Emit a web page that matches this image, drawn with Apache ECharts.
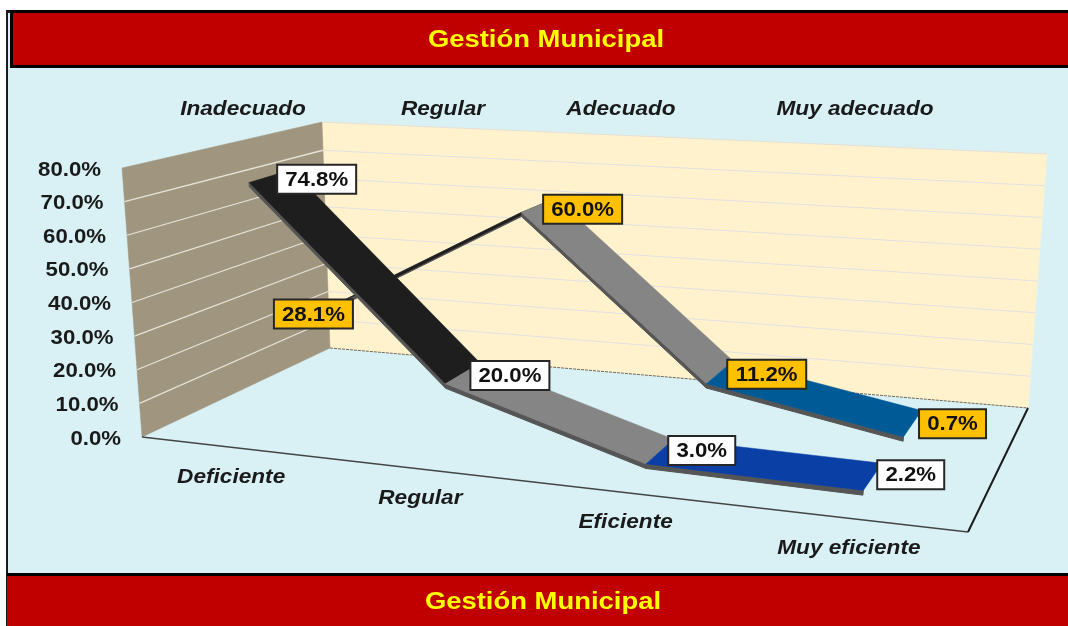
<!DOCTYPE html>
<html>
<head>
<meta charset="utf-8">
<style>html,body{margin:0;padding:0;background:#fff}#c{width:1068px;height:626px}</style>
<script src="https://cdn.jsdelivr.net/npm/echarts@6/dist/echarts.min.js"></script>
</head>
<body>
<div id="c"></div>
<script>
// ---------- data ----------
const titleText = 'Gestión Municipal';
const categories = ['Deficiente', 'Regular', 'Eficiente', 'Muy eficiente'];
const backCategories = ['Inadecuado', 'Regular', 'Adecuado', 'Muy adecuado'];
const frontValues = [74.8, 20.0, 3.0, 2.2];
const backValues = [28.1, 60.0, 11.2, 0.7];
const tickValues = [0, 10, 20, 30, 40, 50, 60, 70, 80];

// ---------- layout and style ----------
const FONT = '"Liberation Sans", Arial, sans-serif';
const GRID_SIZE = 400;
const FLOOR = { fl: [142, 437], fr: [968, 532], br: [1028, 408], bl: [330, 348] };
const RISE = { fl: [-20, -269], fr: [35, -300], br: [19, -254], bl: [-8, -226] };
const U_WARP = 0.04;
const FRONT_DEPTH = [0.14, 0.349];
const BACK_DEPTH = [0.617, 0.866];
const SIDE_DROP = 1.3;
const FRONT_COLORS = ['#1e1e1e', '#858585', '#0a3fa5'];
const BACK_COLORS = ['#1e1e1e', '#858585', '#005a96'];
const SIDE_COLOR = '#555555';
const FRONT_LABEL_OFFSET = [[46.5, 3], [47, 2], [42, -1], [38, -2]];
const BACK_LABEL_OFFSET = [[-52, 23], [44, 4], [47, 2], [40, 0]];
const BACK_CAT_X = [243, 443, 621, 855];
const TEXT_STRETCH = 1.11;
const CAT_STRETCH = 1.16;

// ---------- projective floor plus interpolated rise ----------
const H = (function () {
  const { fl, fr, br, bl } = FLOOR;
  const dx1 = fr[0] - br[0], dx2 = bl[0] - br[0], sx = fl[0] - fr[0] + br[0] - bl[0];
  const dy1 = fr[1] - br[1], dy2 = bl[1] - br[1], sy = fl[1] - fr[1] + br[1] - bl[1];
  const den = dx1 * dy2 - dx2 * dy1;
  const g = (sx * dy2 - dx2 * sy) / den, h = (dx1 * sy - sx * dy1) / den;
  return {
    a: fr[0] - fl[0] + g * fr[0], b: bl[0] - fl[0] + h * bl[0], c: fl[0],
    d: fr[1] - fl[1] + g * fr[1], e: bl[1] - fl[1] + h * bl[1], f: fl[1], g, h
  };
})();
function project(u0, v, t) {
  const u = u0 + U_WARP * u0 * (1 - u0);
  const w = H.g * u + H.h * v + 1;
  const x = (H.a * u + H.b * v + H.c) / w, y = (H.d * u + H.e * v + H.f) / w;
  const bi = i => (1 - v) * ((1 - u) * RISE.fl[i] + u * RISE.fr[i]) + v * ((1 - u) * RISE.bl[i] + u * RISE.br[i]);
  return [x + t * bi(0), y + t * bi(1)];
}
// read the library's scales on the hidden grid and turn them into unit coordinates
function unit(api, cat, val) {
  const p = api.coord([cat, val]);
  return [p[0] / GRID_SIZE, (GRID_SIZE - p[1]) / GRID_SIZE];
}
function poly(points, fill, extra) {
  return { type: 'polygon', shape: { points }, style: Object.assign({ fill, stroke: fill, lineWidth: 0.5 }, extra || {}) };
}
function line(p, q, stroke, lineWidth, dash) {
  return { type: 'line', shape: { x1: p[0], y1: p[1], x2: q[0], y2: q[1] }, style: { stroke, lineWidth, lineDash: dash || null, fill: null } };
}
function text(str, x, y, size, opts) {
  const o = opts || {};
  return {
    type: 'text', x, y, scaleX: o.stretch || TEXT_STRETCH,
    style: {
      text: str, fill: o.fill || '#1a1a1a',
      font: (o.italic ? 'italic ' : '') + 'bold ' + size + 'px ' + FONT,
      align: o.align || 'center', verticalAlign: 'middle'
    }
  };
}

function renderWalls(params, api) {
  return {
    type: 'group', children: [
      poly([project(0, 1, 0), project(1, 1, 0), project(1, 1, 1), project(0, 1, 1)], '#fff2cc'),
      poly([project(0, 0, 0), project(0, 1, 0), project(0, 1, 1), project(0, 0, 1)], '#a09680'),
      line(project(0, 1, 1), project(1, 1, 1), '#e3e0d8', 1),
      line(project(0, 1, 0), project(1, 1, 0), '#6a6a62', 1, [3, 1]),
      line(project(0, 0, 0), project(1, 0, 0), '#454545', 1.6),
      line(project(1, 0, 0), project(1, 1, 0), '#1c1c1c', 2)
    ]
  };
}
function renderTick(params, api) {
  const val = api.value(0);
  const t = unit(api, 0, val)[1];
  const children = [];
  if (val > 0 && val < 80) {
    children.push(line(project(0, 1, t), project(1, 1, t), '#e0e1e3', 1.2));
    children.push(line(project(0, 0, t), project(0, 1, t), '#e6e2d6', 1.3));
  }
  const p = project(0, 0, t);
  children.push(text(val.toFixed(1) + '%', p[0] - 21, p[1] + 2, 20, { align: 'right' }));
  return { type: 'group', children };
}
function ribbonRenderer(values, depth, colors) {
  return function (params, api) {
    const i = params.dataIndex;
    if (i >= values.length - 1) return { type: 'group', children: [] };
    const a = unit(api, i, values[i]), b = unit(api, i + 1, values[i + 1]);
    const drop = unit(api, 0, SIDE_DROP)[1];
    const f1 = project(a[0], depth[0], a[1]), f2 = project(b[0], depth[0], b[1]);
    const k1 = project(a[0], depth[1], a[1]), k2 = project(b[0], depth[1], b[1]);
    const s1 = project(a[0], depth[0], a[1] - drop), s2 = project(b[0], depth[0], b[1] - drop);
    return {
      type: 'group', children: [
        poly([f1, f2, s2, s1], SIDE_COLOR, { lineWidth: 1 }),
        poly([f1, f2, k2, k1], colors[i])
      ]
    };
  };
}
function labelRenderer(values, depth, offsets, fill) {
  return function (params, api) {
    const i = params.dataIndex;
    const a = unit(api, i, values[i]);
    const f = project(a[0], depth[0], a[1]), k = project(a[0], depth[1], a[1]);
    const cx = (f[0] + k[0]) / 2 + offsets[i][0], cy = (f[1] + k[1]) / 2 + offsets[i][1];
    const str = values[i].toFixed(1) + '%';
    const w = str.length === 5 ? 79 : 67, h = 29;
    return {
      type: 'group', children: [
        { type: 'rect', shape: { x: cx - w / 2, y: cy - h / 2, width: w, height: h }, style: { fill, stroke: '#262626', lineWidth: 2 } },
        text(str, cx, cy + 1, 20, { fill: '#111111' })
      ]
    };
  };
}
function renderFrontCat(params, api) {
  const u = unit(api, params.dataIndex, 0)[0];
  const p = project(u, 0, 0);
  return text(categories[params.dataIndex], p[0], p[1] + 30, 19.5, { italic: true, stretch: CAT_STRETCH });
}
function renderBackCat(params, api) {
  return text(backCategories[params.dataIndex], BACK_CAT_X[params.dataIndex], 110, 19.5, { italic: true, stretch: CAT_STRETCH });
}
function custom(data, renderItem, z) {
  return { type: 'custom', coordinateSystem: 'cartesian2d', data, renderItem, silent: true, clip: false, z, animation: false };
}
const catRows = categories.map((c, i) => [i, 0]);

function banner(blackLeft, redLeft, y, h, textX, textY) {
  return [
    { type: 'rect', shape: { x: blackLeft, y: y - 3, width: 1068, height: h + 6 }, style: { fill: '#000000' } },
    { type: 'rect', shape: { x: redLeft, y, width: 1068, height: h }, style: { fill: '#c00000' } },
    { type: 'text', x: textX, y: textY, scaleX: 1.143, style: { text: titleText, font: 'bold 24px ' + FONT, fill: '#ffff00', align: 'center', verticalAlign: 'middle' } }
  ];
}

const chart = echarts.init(document.getElementById('c'), null, { renderer: 'canvas', width: 1068, height: 626 });
chart.setOption({
  animation: false,
  backgroundColor: '#ffffff',
  grid: { left: 0, top: 0, width: GRID_SIZE, height: GRID_SIZE },
  xAxis: { type: 'category', data: categories, show: false, boundaryGap: true },
  yAxis: { type: 'value', min: 0, max: 80, interval: 10, show: false },
  graphic: {
    elements: [
      { type: 'rect', shape: { x: 6, y: 10, width: 1062, height: 616 }, style: { fill: '#1a1a1a' } },
      { type: 'rect', shape: { x: 8, y: 13, width: 1060, height: 613 }, style: { fill: '#d9f1f5' } },
      ...banner(10, 13, 13, 52, 546, 40),
      ...banner(7, 7, 576, 53, 543, 602)
    ]
  },
  series: [
    custom([[0, 0]], renderWalls, 2),
    custom(tickValues.map(v => [v]), renderTick, 3),
    custom(backValues.map((v, i) => [i, v]), ribbonRenderer(backValues, BACK_DEPTH, BACK_COLORS), 4),
    custom(frontValues.map((v, i) => [i, v]), ribbonRenderer(frontValues, FRONT_DEPTH, FRONT_COLORS), 5),
    custom(backValues.map((v, i) => [i, v]), labelRenderer(backValues, BACK_DEPTH, BACK_LABEL_OFFSET, '#ffc000'), 6),
    custom(frontValues.map((v, i) => [i, v]), labelRenderer(frontValues, FRONT_DEPTH, FRONT_LABEL_OFFSET, '#ffffff'), 6),
    custom(catRows, renderFrontCat, 7),
    custom(catRows, renderBackCat, 7)
  ]
});
</script>
</body>
</html>
